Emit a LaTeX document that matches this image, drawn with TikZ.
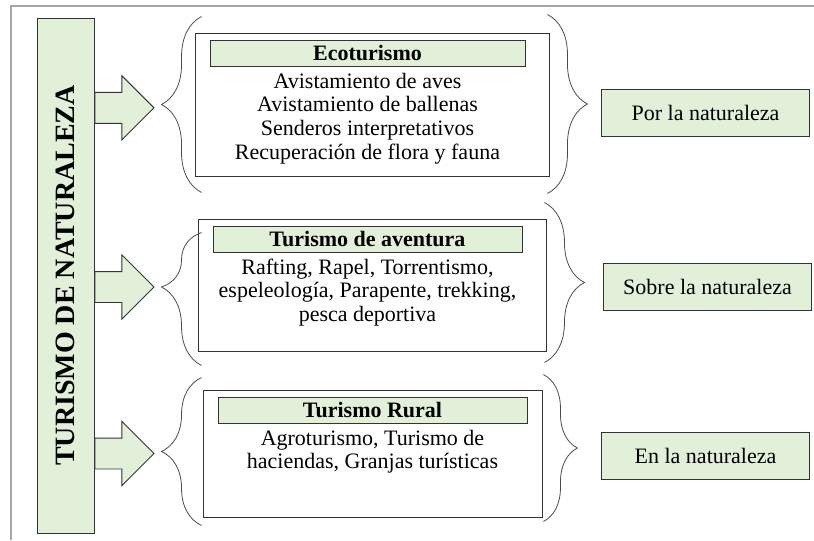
\documentclass[tikz,border=0pt]{standalone}
\usepackage{fontspec}
\setmainfont{Liberation Serif}
\usetikzlibrary{shapes,positioning,arrows,calc,decorations.pathreplacing}
\definecolor{leaf}{HTML}{E2EFD9}

\begin{document}
\begin{tikzpicture}[x=0.75pt,y=-0.75pt,
            box/.style={rectangle, draw=black!80, line width=0.7pt, inner sep=0pt},
            greenbox/.style={box, fill=leaf},
            head/.style={greenbox, minimum width=231.75pt, minimum height=19.5pt,
                font=\fontsize{16.5}{17.8}\selectfont\bfseries},
            list/.style={align=center, inner sep=0pt, font=\fontsize{16.5}{17.8}\selectfont},
            side/.style={greenbox, minimum width=156pt, minimum height=35.25pt,
                font=\fontsize{16.5}{17.8}\selectfont},
            myarrow/.style={single arrow, draw=black!80, line width=0.7pt, fill=leaf,
                inner xsep=0pt, inner ysep=11.25pt, minimum height=44.25pt,
                single arrow head extend=12.4pt, anchor=tail},
            curly/.style={decorate, decoration={brace, amplitude=30pt},
                draw=black!70, line width=0.6pt}]

            \useasboundingbox (0,0) rectangle (814,540);
            \draw[black!35, line width=1.1pt] (11,540) -- (11,6) -- (814,6);

            \node [greenbox, minimum width=42.75pt, minimum height=386.25pt,
                font=\fontsize{21}{25}\selectfont\bfseries] (t0) at (65.5,275.5)
                {\rotatebox{90}{TURISMO DE NATURALEZA}};

            \node [box, minimum width=265.5pt, minimum height=107.25pt] (b1) at (372,104.5) {};
            \node [box, minimum width=261pt, minimum height=99pt] (b2) at (372,285) {};
            \node [box, minimum width=254.25pt, minimum height=95.25pt] (b3) at (372.5,453.5) {};

            \node [head, minimum width=236.25pt, below=5.25pt of b1.north, xshift=-3.4pt] (h1) {Ecoturismo};
            \node [head, below=5.25pt of b2.north, xshift=-3.4pt] (h2) {Turismo de aventura};
            \node [head, below=5.25pt of b3.north] (h3) {Turismo Rural};

            \node [list, below=4.5pt of h1] (l1) {Avistamiento de aves\\Avistamiento de ballenas\\
                Senderos interpretativos\\Recuperación de flora y fauna};
            \node [list, below=4.5pt of h2] (l2) {Rafting, Rapel, Torrentismo,\\
                espeleología, Parapente, trekking,\\pesca deportiva};
            \node [list, below=4.5pt of h3] (l3) {Agroturismo, Turismo de\\haciendas, Granjas turísticas};

            \node [myarrow] (a1) at ([yshift=-2.5pt]t0.east |- b1.west) {};
            \node [myarrow] (a2) at ([yshift=-1.5pt]t0.east |- b2.west) {};
            \node [myarrow] (a3) at (t0.east |- b3.west) {};

            \draw [curly] ([shift={(7,16)}]b1.south west) -- ([shift={(7,-16)}]b1.north west);
            \draw [curly, decoration={aspect=0.59}] ([shift={(4,14)}]b2.south west) -- ([shift={(4,14)}]b2.north west);
            \draw [curly] ([shift={(-1,8)}]b3.south west) -- ([shift={(-1,-12)}]b3.north west);

            \draw [curly] ([shift={(-2,-18)}]b1.north east) -- ([shift={(-2,17)}]b1.south east);
            \draw [curly] ([shift={(-2,-16)}]b2.north east) -- ([shift={(-2,11)}]b2.south east);
            \draw [curly, decoration={amplitude=25.5pt}] ([shift={(1,-15)}]b3.north east) -- ([shift={(1,4)}]b3.south east);

            \node [side] (r1) at (705.5,113) {Por la naturaleza};
            \node [side] (r2) at (707.5,287) {Sobre la naturaleza};
            \node [side] (r3) at (705.5,455.5) {En la naturaleza};

        \end{tikzpicture}
\end{document}
